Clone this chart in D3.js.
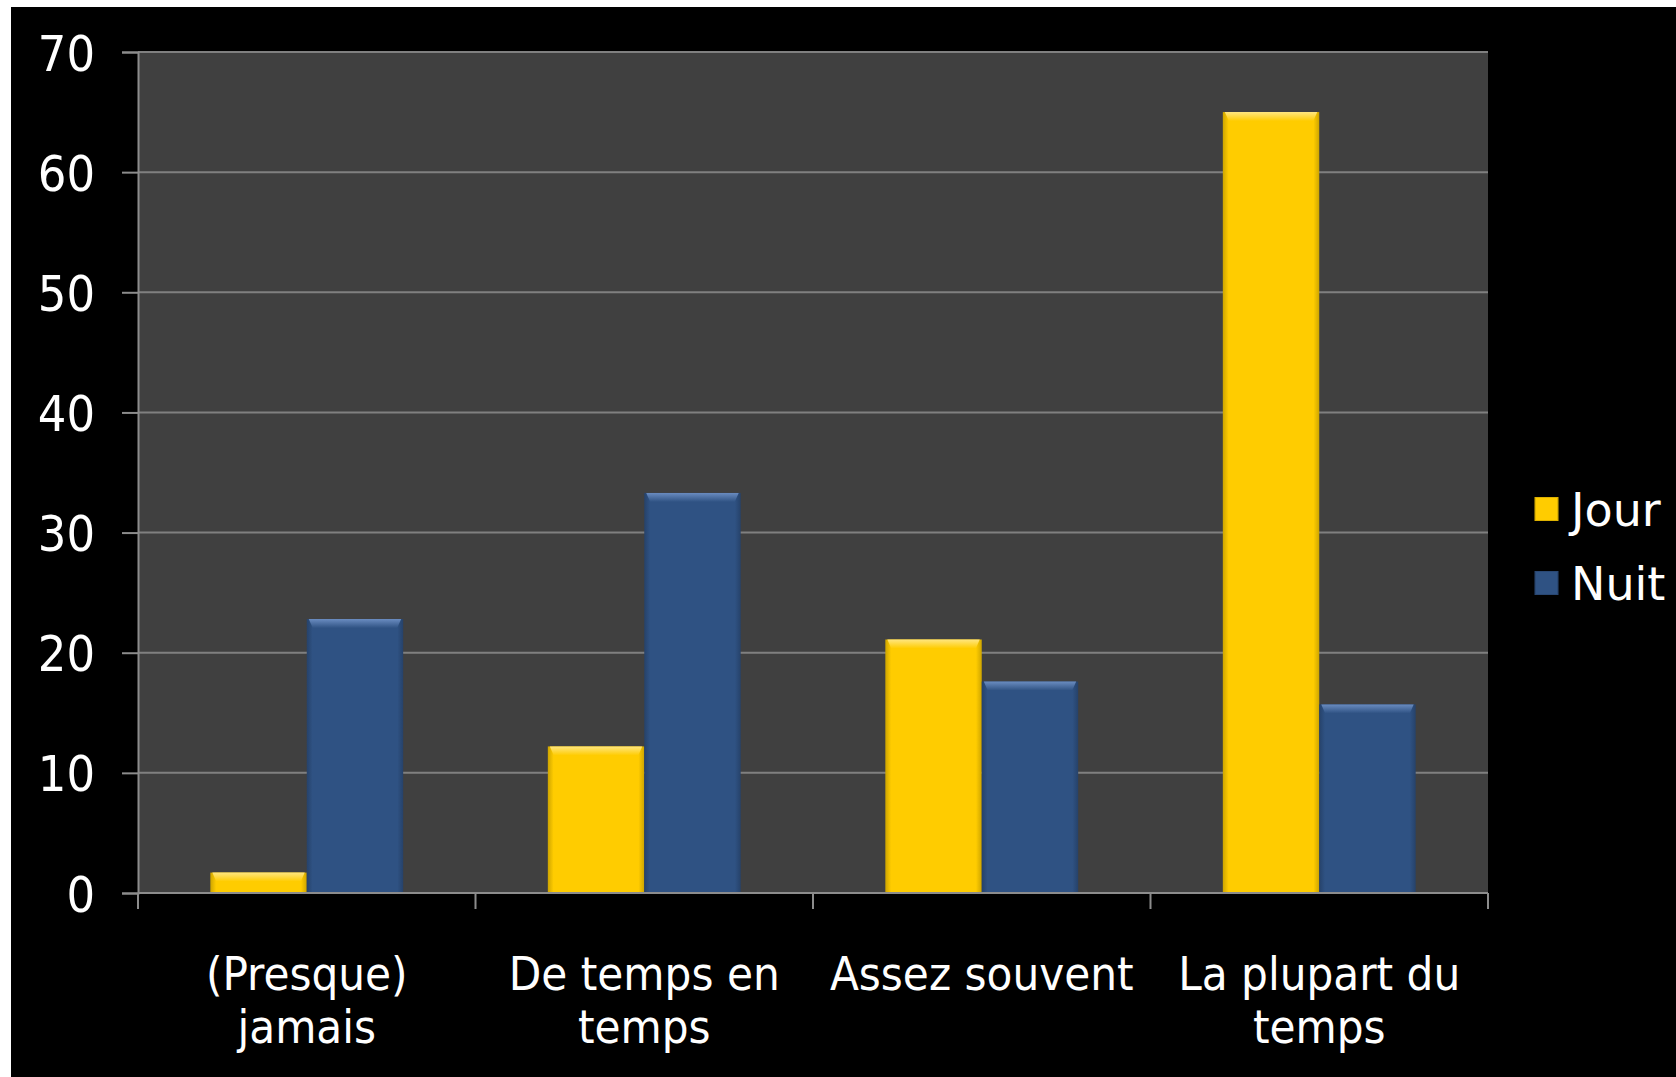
<!DOCTYPE html>
<html>
<head>
<meta charset="utf-8">
<script src="https://cdn.jsdelivr.net/npm/d3@7"></script>
<style>
  body { margin: 0; background: #fff; }
  svg { display: block; }
  text { font-family: "DejaVu Sans Condensed", "DejaVu Sans", sans-serif; fill: #fff; }
</style>
</head>
<body>
<svg id="chart"></svg>
<script>
// Data
const categories = [["(Presque)", "jamais"], ["De temps en", "temps"], ["Assez souvent"], ["La plupart du", "temps"]];
const seriesNames = ["Jour", "Nuit"];
const jour = [1.7, 12.2, 21.1, 65.0];
const nuit = [22.8, 33.3, 17.6, 15.7];
const yTicks = [0, 10, 20, 30, 40, 50, 60, 70];

const colors = { Jour: "#ffcc00", Nuit: "#2f5283" };
const tops = { Jour: "#ffe680", Nuit: "#6a8cc0" };

const width = 1676, height = 1077;
const plot = { left: 138, right: 1488, top: 52, bottom: 893 };

const svg = d3.select("#chart").attr("width", width).attr("height", height);

// Frame: thin white strip top/left, black background
svg.append("rect").attr("width", width).attr("height", height).attr("fill", "#fff");
svg.append("rect").attr("x", 11).attr("y", 7).attr("width", width - 11).attr("height", height - 7).attr("fill", "#000");

// Scales
const catIdx = categories.map((d, i) => i);
const x = d3.scaleBand().domain(catIdx).range([plot.left, plot.right]).paddingInner(0).paddingOuter(0);
const xs = d3.scaleBand().domain(seriesNames).range([0, x.bandwidth()]).paddingInner(0).paddingOuter(0.75);
const y = d3.scaleLinear().domain([0, 70]).range([plot.bottom, plot.top]);

// Gradients for bar sides and bevelled tops
const defs = svg.append("defs");
seriesNames.forEach((s) => {
	const g = defs.append("linearGradient").attr("id", "grad-" + s).attr("x1", 0).attr("x2", 1).attr("y1", 0).attr("y2", 0);
	const c = d3.color(colors[s]);
	g.append("stop").attr("offset", "0%").attr("stop-color", c.darker(0.6));
	g.append("stop").attr("offset", "6%").attr("stop-color", c);
	g.append("stop").attr("offset", "94%").attr("stop-color", c);
	g.append("stop").attr("offset", "100%").attr("stop-color", c.darker(0.6));
	const t = defs.append("linearGradient").attr("id", "top-" + s).attr("x1", 0).attr("x2", 0).attr("y1", 0).attr("y2", 1);
	t.append("stop").attr("offset", "0%").attr("stop-color", tops[s]);
	t.append("stop").attr("offset", "100%").attr("stop-color", c);
});

// Plot background
svg.append("rect")
	.attr("x", plot.left).attr("y", plot.top)
	.attr("width", plot.right - plot.left).attr("height", plot.bottom - plot.top)
	.attr("fill", "#404040");

// Gridlines
svg.append("g")
	.selectAll("line")
	.data(yTicks.filter((d) => d > 0))
	.enter()
	.append("line")
	.attr("x1", plot.left).attr("x2", plot.right)
	.attr("y1", (d) => y(d)).attr("y2", (d) => y(d))
	.attr("stroke", "#808080").attr("stroke-width", 2);

// Bars
const rows = catIdx.map((i) => ({ i, Jour: jour[i], Nuit: nuit[i] }));
const groups = svg.append("g")
	.selectAll("g")
	.data(rows)
	.enter()
	.append("g")
	.attr("transform", (d) => `translate(${x(d.i)},0)`);

const bars = groups.selectAll("g")
	.data((d) => seriesNames.map((s) => ({ s, v: d[s] })))
	.enter()
	.append("g");

bars.append("rect")
	.attr("x", (d) => xs(d.s))
	.attr("y", (d) => y(d.v))
	.attr("width", xs.bandwidth())
	.attr("height", (d) => y(0) - y(d.v))
	.attr("fill", (d) => `url(#grad-${d.s})`);

bars.append("path")
	.attr("d", (d) => {
		const x0 = xs(d.s), x1 = x0 + xs.bandwidth(), y0 = y(d.v), h = Math.min(9, y(0) - y(d.v));
		return `M${x0 + 2},${y0}L${x1 - 2},${y0}L${x1 - 6},${y0 + h}L${x0 + 6},${y0 + h}Z`;
	})
	.attr("fill", (d) => `url(#top-${d.s})`);

// Y axis
const yAxis = svg.append("g")
	.attr("transform", `translate(${plot.left},0)`)
	.call(d3.axisLeft(y).tickValues(yTicks).tickSize(16).tickPadding(27));
yAxis.select(".domain").attr("stroke", "#8c8c8c").attr("stroke-width", 2);
yAxis.selectAll(".tick line").attr("stroke", "#8c8c8c").attr("stroke-width", 2);
yAxis.selectAll(".tick text")
	.attr("fill", "#fff")
	.style("font-family", '"DejaVu Sans Condensed", "DejaVu Sans", sans-serif')
	.style("font-size", "50px")
	.attr("dy", "0.36em");

// X axis line and category boundary ticks
svg.append("line")
	.attr("x1", plot.left).attr("x2", plot.right)
	.attr("y1", y(0)).attr("y2", y(0))
	.attr("stroke", "#8c8c8c").attr("stroke-width", 2);

const bounds = catIdx.map((i) => x(i)).concat([x(catIdx[catIdx.length - 1]) + x.bandwidth()]);
svg.append("g")
	.selectAll("line")
	.data(bounds)
	.enter()
	.append("line")
	.attr("x1", (d) => d).attr("x2", (d) => d)
	.attr("y1", y(0)).attr("y2", y(0) + 16)
	.attr("stroke", "#8c8c8c").attr("stroke-width", 2);

// Category labels
const labels = svg.append("g")
	.selectAll("text")
	.data(catIdx)
	.enter()
	.append("text")
	.attr("text-anchor", "middle")
	.style("font-size", "47px")
	.attr("x", (i) => x(i) + x.bandwidth() / 2)
	.attr("y", 990);

labels.selectAll("tspan")
	.data((i) => categories[i].map((t, k) => ({ t, k, i })))
	.enter()
	.append("tspan")
	.attr("x", (d) => x(d.i) + x.bandwidth() / 2)
	.attr("dy", (d) => (d.k === 0 ? 0 : 53))
	.text((d) => d.t);

// Legend
const legend = svg.append("g").attr("id", "legend");
const legendY = [509, 583];
seriesNames.forEach((s, k) => {
	legend.append("rect")
		.attr("x", 1535).attr("y", legendY[k] - 11.5)
		.attr("width", 23).attr("height", 23)
		.attr("fill", `url(#grad-${s})`)
		.attr("stroke", d3.color(colors[s]).darker(0.4)).attr("stroke-width", 1);
	legend.append("text")
		.attr("x", 1571).attr("y", legendY[k])
		.attr("dy", "0.36em")
		.style("font-family", '"DejaVu Sans", sans-serif')
		.style("font-size", "46px")
		.text(s);
});
</script>
</body>
</html>
